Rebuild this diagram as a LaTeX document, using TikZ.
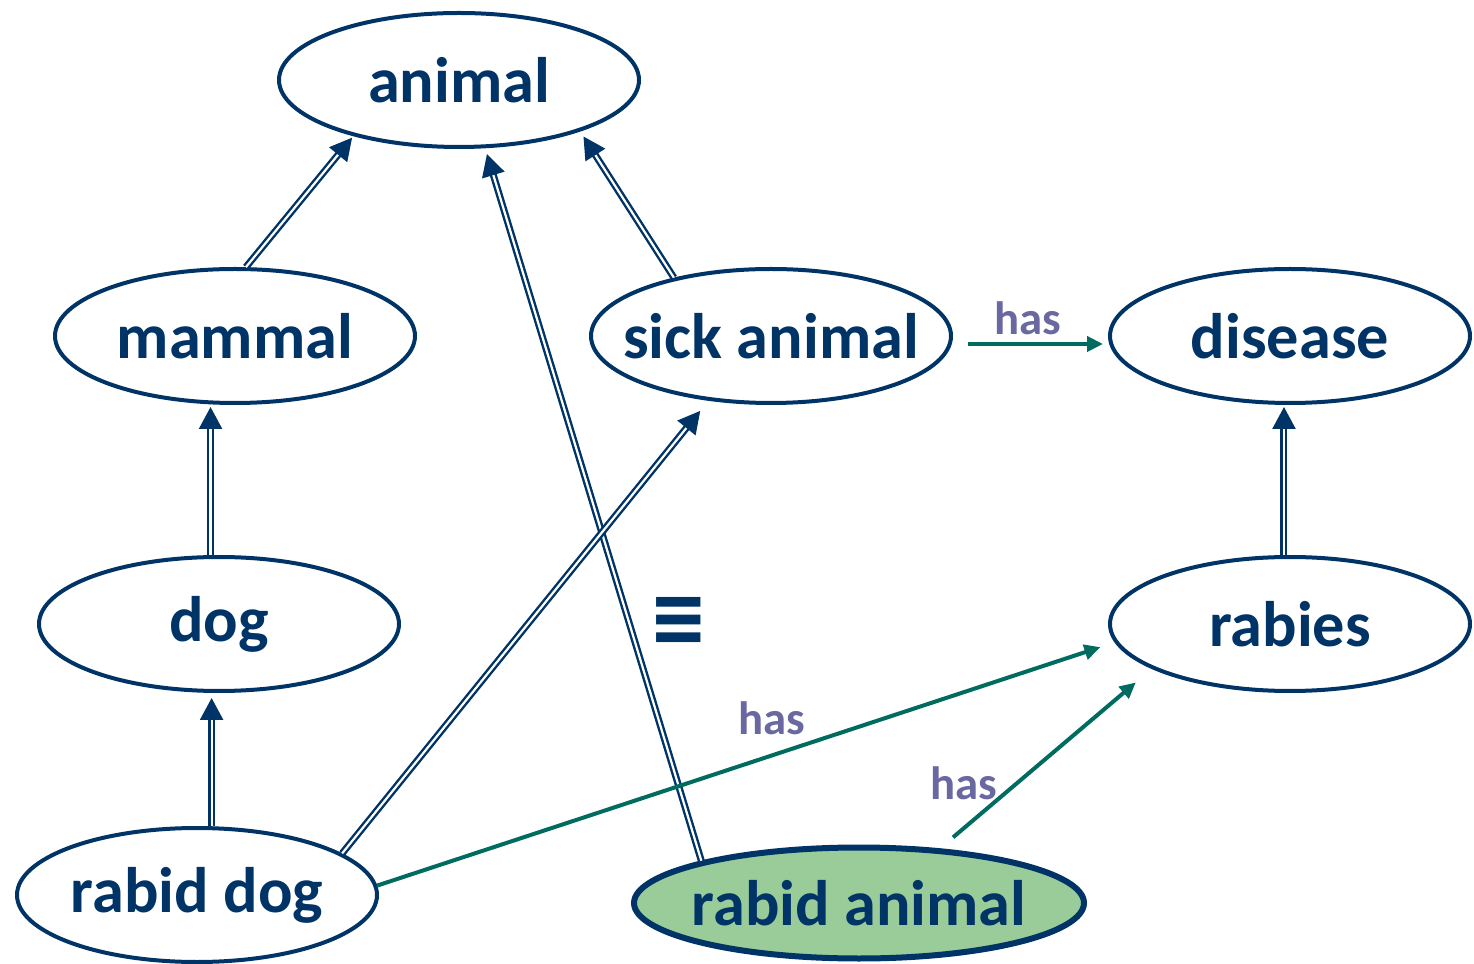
\documentclass[tikz,border=0pt]{standalone}
\usepackage{fontspec}
\setmainfont{Carlito}
\usetikzlibrary{shapes.geometric,arrows.meta,calc}
\definecolor{navy}{RGB}{0,51,102}
\definecolor{teal}{RGB}{0,107,95}
\definecolor{haslbl}{RGB}{106,104,160}
\definecolor{rabidfill}{RGB}{153,204,153}
\begin{document}
\begin{tikzpicture}[x=0.1mm,y=-0.1mm,
  concept/.style={ellipse, draw=navy, line width=0.4mm, fill=white,
    minimum width=36mm, minimum height=13.4mm, inner sep=0pt,
    text=navy, font=\bfseries\fontsize{18.3}{22}\selectfont},
  defined/.style={concept, fill=rabidfill, line width=0.6mm,
    minimum width=45mm, minimum height=11.1mm},
  isa/.style={draw=navy, line width=0.24mm, double=white, double distance=0.22mm,
    -{Triangle[length=2.2mm,width=2.3mm]}},
  hasrel/.style={draw=teal, line width=0.4mm, -{Triangle[length=1.6mm,width=1.5mm]}},
  haslabel/.style={text=haslbl, font=\bfseries\fontsize{13.3}{16}\selectfont, inner sep=0pt},
  equiv/.style={text=navy, font=\bfseries\fontsize{30}{30}\selectfont, inner sep=0pt}]
\useasboundingbox (0,0) rectangle (1474,964);

% concept nodes
\node[concept] (animal)   at (459,80)  {\makebox[0pt]{animal}};
\node[concept] (mammal)   at (235,336) {\makebox[0pt]{mammal}};
\node[concept] (sick)     at (771,336) {\makebox[0pt]{sick animal}};
\node[concept] (disease)  at (1290,336) {\makebox[0pt]{disease}};
\node[concept] (dog)      at (219,624) {\makebox[0pt]{dog}};
\node[concept] (rabies)   at (1290,624) {\makebox[0pt]{rabies}};
\node[concept] (rabiddog) at (197,895) {\makebox[0pt]{rabid dog}};
\node[defined] (rabidanimal) at (859,903) {\makebox[0pt]{rabid animal}};

% subclass links
\draw[isa, shorten >=0.2mm] (mammal.81) -- (animal.208);
\draw[isa, shorten >=0.6mm] (sick.149) -- (animal.337);
\draw[isa, shorten >=0.6mm] (rabidanimal.165) -- (animal.291);
\draw[isa, shorten >=1.3mm] (rabiddog.16) -- (sick.226);
\draw[isa, shorten >=0.2mm] (dog.97) -- (dog.97 |- mammal.south);
\draw[isa, shorten >=0.5mm] (rabiddog.78) -- (rabiddog.78 |- dog.south);
\draw[isa, shorten >=0.2mm] (rabies.95) -- (rabies.95 |- disease.south);

% "has" relations
\draw[hasrel] ([shift={(1.5mm,-0.8mm)}]sick.east) -- ([shift={(-0.5mm,-0.8mm)}]disease.west);
\draw[hasrel, shorten >=1.5mm] (rabiddog.3) -- (rabies.186);
\draw[hasrel, shorten <=1.7mm, shorten >=2.1mm] (rabidanimal.34) -- (rabies.198);

\node[haslabel] (has1) at (1028,318) {has};
\node[haslabel] (has2) at (772,718) {has};
\node[haslabel] (has3) at (964,783) {has};

% equivalence mark
\node[equiv] (eq) at (679,625) {≡};
\end{tikzpicture}
\end{document}
